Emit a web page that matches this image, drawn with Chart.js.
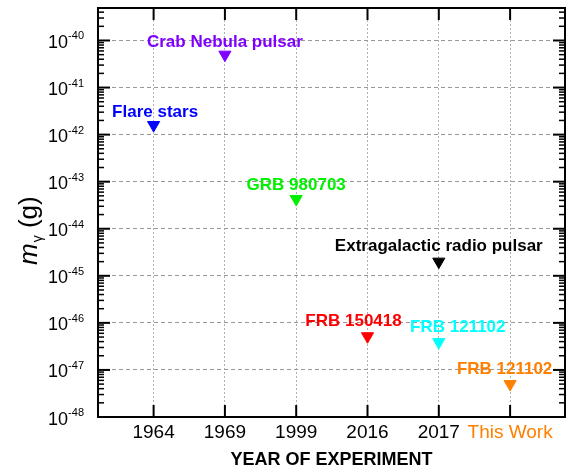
<!DOCTYPE html>
<html>
<head>
<meta charset="utf-8">
<script src="https://cdn.jsdelivr.net/npm/chart.js@4.4.1/dist/chart.umd.min.js"></script>
<style>
  html, body { margin: 0; padding: 0; background: #fff; }
  canvas { display: block; }
</style>
</head>
<body>
<canvas id="chart" width="573" height="474"></canvas>
<script>
// --- datos ---
const years = ['1964', '1969', '1999', '2016', '2017', 'This Work'];
const experiments = ['Flare stars', 'Crab Nebula pulsar', 'GRB 980703', 'FRB 150418',
    'Extragalactic radio pulsar', 'FRB 121102', 'FRB 121102'];
const yearIndex = [0, 1, 2, 3, 4, 4, 5];
const massLimit = [1.6e-42, 5e-41, 4.3e-44, 5.2e-47, 2e-45, 3.9e-47, 5e-48];
const decadeExponents = [-48, -47, -46, -45, -44, -43, -42, -41, -40];

// --- estilos ---
const pointColors = ['#0000ff', '#8000ff', '#00f000', '#ff0000', '#000000', '#00ffff', '#ff8000'];
const labelShift = [[1.5, -12.5], [0, -12.5], [0, -13.5], [-14, -15], [0, -15], [19, -14.5], [-5.5, -14.5]];
const FONT = '"Liberation Sans", Arial, sans-serif';

// etiquetas de cada punto, marcos, ticks menores y eje Y con superindices
const decoration = {
    id: 'decoration',
    afterDatasetsDraw(chart) {
        const ctx = chart.ctx;
        const meta = chart.getDatasetMeta(0);
        ctx.save();
        ctx.font = 'bold 17px ' + FONT;
        ctx.textAlign = 'center';
        ctx.textBaseline = 'middle';
        meta.data.forEach((pt, i) => {
            ctx.fillStyle = pointColors[i];
            ctx.fillText(experiments[i], pt.x + labelShift[i][0], pt.y + labelShift[i][1]);
        });
        ctx.restore();
    },
    afterDraw(chart) {
        const ctx = chart.ctx;
        const { left, right, top, bottom } = chart.chartArea;
        const xs = chart.scales.x, ys = chart.scales.y;
        ctx.save();
        ctx.strokeStyle = '#000';

        // ticks del eje Y (mayores y menores), izquierda y derecha
        const line = (x1, y1, x2, y2, w) => {
            ctx.lineWidth = w;
            ctx.beginPath();
            ctx.moveTo(x1, y1);
            ctx.lineTo(x2, y2);
            ctx.stroke();
        };
        decadeExponents.forEach(e => {
            const base = Math.pow(10, e);
            const y = ys.getPixelForValue(base);
            line(left, y, left + 12, y, 2);
            line(right, y, right - 12, y, 2);
            for (let k = 2; k <= 9; k++) {
                const v = k * base;
                if (v > ys.max) break;
                const ym = ys.getPixelForValue(v);
                line(left, ym, left + 6, ym, 1.5);
                line(right, ym, right - 6, ym, 1.5);
            }
        });

        // ticks del eje X arriba y abajo
        years.forEach((_, i) => {
            const x = xs.getPixelForValue(i);
            line(x, bottom, x, bottom - 12, 2);
            line(x, top, x, top + 12, 2);
        });

        // marco
        ctx.lineWidth = 2;
        ctx.strokeRect(left, top, right - left, bottom - top);

        // etiquetas 10^n
        ctx.fillStyle = '#000';
        ctx.textBaseline = 'alphabetic';
        decadeExponents.forEach(e => {
            const y = ys.getPixelForValue(Math.pow(10, e));
            const sup = String(e);
            ctx.font = '11px ' + FONT;
            const supW = ctx.measureText(sup).width;
            ctx.textAlign = 'right';
            ctx.fillText(sup, left - 14, y - 1);
            ctx.font = '18px ' + FONT;
            ctx.fillText('10', left - 14 - supW, y + 7.5);
        });

        // titulo eje Y: m_γ (g)
        ctx.translate(37, 265);
        ctx.rotate(-Math.PI / 2);
        ctx.textAlign = 'left';
        ctx.font = 'italic 26px ' + FONT;
        ctx.fillText('m', 0, 0);
        let cx = ctx.measureText('m').width + 1;
        ctx.font = '14px ' + FONT;
        ctx.fillText('γ', cx, 5);
        cx += ctx.measureText('γ').width;
        ctx.font = '26px ' + FONT;
        ctx.fillText(' (g)', cx, 0);
        ctx.restore();
    }
};

const ctx = document.getElementById('chart');
new Chart(ctx, {
    type: 'scatter',
    data: {
        datasets: [{
            data: yearIndex.map((x, i) => ({ x: x, y: massLimit[i] })),
            pointStyle: 'triangle',
            rotation: 180,
            pointRadius: 7,
            pointHoverRadius: 7,
            pointBackgroundColor: pointColors,
            pointBorderColor: pointColors,
            pointBorderWidth: 1
        }]
    },
    options: {
        responsive: false,
        animation: false,
        layout: { padding: { top: 4, right: 6, left: 0, bottom: 0 } },
        plugins: { legend: { display: false }, tooltip: { enabled: false } },
        scales: {
            x: {
                type: 'linear',
                min: -0.78,
                max: 5.77,
                afterBuildTicks: s => { s.ticks = years.map((_, i) => ({ value: i })); },
                afterFit: s => { s.height = 57; },
                grid: { color: '#b0b0b0', lineWidth: 1, drawTicks: false },
                border: { display: false, dash: [2, 2] },
                ticks: {
                    autoSkip: false,
                    maxRotation: 0,
                    padding: 4,
                    font: { size: 19, family: FONT },
                    color: c => (c.tick && c.tick.value === years.length - 1) ? '#ff8000' : '#000',
                    callback: v => years[v] !== undefined ? years[v] : ''
                },
                title: {
                    display: true,
                    text: 'YEAR OF EXPERIMENT',
                    color: '#000',
                    font: { size: 18, weight: 'bold', family: FONT },
                    padding: { top: 0, bottom: 3 }
                }
            },
            y: {
                type: 'logarithmic',
                min: 1e-48,
                max: 4.9e-40,
                afterBuildTicks: s => { s.ticks = decadeExponents.map(e => ({ value: Math.pow(10, e) })); },
                afterFit: s => { s.width = 98; },
                grid: { color: '#999', lineWidth: 1, drawTicks: false },
                border: { display: false, dash: [4, 3] },
                ticks: { display: false }
            }
        }
    },
    plugins: [decoration]
});
</script>
</body>
</html>
